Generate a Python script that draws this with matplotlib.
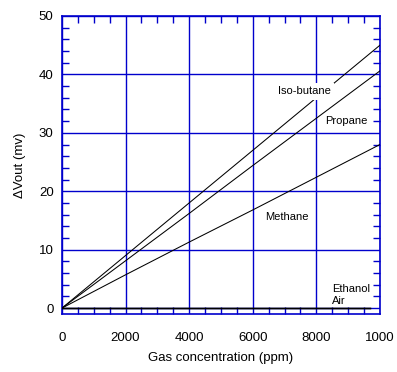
import numpy as np
from matplotlib import pyplot as plt
from matplotlib.ticker import MultipleLocator

plt.rcParams['font.family'] = ['Liberation Sans', 'DejaVu Sans']

# gas concentration (ppm) and sensor response (mV)
conc = [0, 2000, 4000, 6000, 8000, 10000]
isobutane = [0, 9.0, 18.0, 27.0, 36.0, 45.0]
propane = [0, 8.1, 16.2, 24.4, 32.5, 40.6]
methane = [0, 5.7, 11.3, 16.8, 22.4, 28.0]
zero_conc = [0, 9700]
ethanol = [0, 0]
air = [0, 0]

x_ticks = [0, 2000, 4000, 6000, 8000, 10000]
x_tick_labels = ["0", "2000", "4000", "6000", "8000", "1000"]

blue = "#0000CC"

fig = plt.figure(figsize=(3.97, 3.72), dpi=100)
ax = fig.add_axes([0.156, 0.156, 0.801, 0.801])

ax.plot(conc, isobutane, color="black", lw=0.75, zorder=3)
ax.plot(conc, propane, color="black", lw=0.75, zorder=3)
ax.plot(conc, methane, color="black", lw=0.75, zorder=3)
ax.plot(zero_conc, ethanol, color="black", lw=1.0, zorder=3)
ax.plot(zero_conc, air, color="black", lw=1.0, zorder=3)

ax.set_xlim(0, 10000)
ax.set_ylim(-1, 50)
ax.set_xticks(x_ticks)
ax.set_xticklabels(x_tick_labels)
ax.yaxis.set_major_locator(MultipleLocator(10))
ax.xaxis.set_minor_locator(MultipleLocator(500))
ax.yaxis.set_minor_locator(MultipleLocator(2))

ax.grid(which="major", color=blue, lw=1.0, zorder=1)
ax.set_axisbelow(True)
for s in ax.spines.values():
    s.set_color(blue)
    s.set_linewidth(1.2)

ax.tick_params(which="both", direction="in", top=True, right=True, color=blue)
ax.tick_params(which="major", length=0, labelsize=9.5, pad=6)
ax.tick_params(axis="x", which="major", pad=13)
ax.tick_params(which="minor", length=5, width=1.0)

ax.set_xlabel("Gas concentration (ppm)", fontsize=9.5, labelpad=6)
ax.set_ylabel("\u0394Vout (mv)", fontsize=9.5, labelpad=9)

box = dict(facecolor="white", edgecolor="none", pad=2.5)
ax.text(6790, 37.1, "Iso-butane", fontsize=8, va="center", bbox=box, zorder=4)
ax.text(8270, 32.0, "Propane", fontsize=8, va="center", zorder=4)
ax.text(6380, 15.6, "Methane", fontsize=8, va="center", zorder=4)
ax.text(8490, 3.3, "Ethanol", fontsize=8, va="center", zorder=4)
ax.text(8490, 1.25, "Air", fontsize=8, va="center", zorder=4)

fig.savefig("out.png", dpi=100)
